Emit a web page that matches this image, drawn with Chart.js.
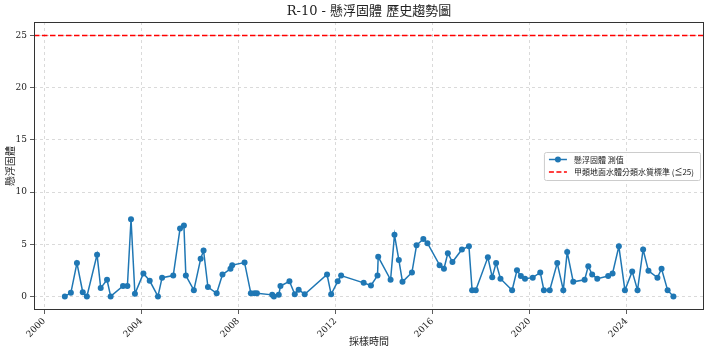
<!DOCTYPE html>
<html><head><meta charset="utf-8">
<script src="https://cdn.jsdelivr.net/npm/chart.js@4.4.1/dist/chart.umd.min.js"></script>
<style>html,body{margin:0;padding:0;background:#fff;overflow:hidden;} canvas{display:block;}</style>
</head><body>
<canvas id="c" width="710" height="352"></canvas>
<script>
const chartTitle = 'R-10 - 懸浮固體 歷史趨勢圖';
const seriesLabel = '懸浮固體 測值';
const thresholdLabel = '甲類地面水體分類水質標準 (≦25)';
const xAxisLabel = '採樣時間';
const yAxisLabel = '懸浮固體';

const sampleYears = [
  2000.85, 2001.10, 2001.35, 2001.59, 2001.76, 2002.18, 2002.33, 2002.59, 2002.74, 2003.25,
  2003.43, 2003.58, 2003.74, 2004.09, 2004.35, 2004.69, 2004.86, 2005.32, 2005.60, 2005.76,
  2005.84, 2006.17, 2006.45, 2006.57, 2006.75, 2007.11, 2007.35, 2007.68, 2007.75, 2008.26,
  2008.52, 2008.67, 2008.77, 2009.40, 2009.47, 2009.67, 2009.74, 2010.11, 2010.33, 2010.49,
  2010.74, 2011.66, 2011.83, 2012.10, 2012.24, 2013.17, 2013.47, 2013.74, 2013.77, 2014.28,
  2014.44, 2014.62, 2014.77, 2015.16, 2015.35, 2015.63, 2015.80, 2016.30, 2016.48, 2016.64,
  2016.83, 2017.22, 2017.51, 2017.64, 2017.79, 2018.29, 2018.47, 2018.63, 2018.81, 2019.29,
  2019.49, 2019.65, 2019.82, 2020.14, 2020.45, 2020.60, 2020.84, 2021.15, 2021.40, 2021.56,
  2021.81, 2022.28, 2022.43, 2022.59, 2022.80, 2023.25, 2023.43, 2023.69, 2023.94, 2024.24,
  2024.46, 2024.69, 2024.91, 2025.28, 2025.45, 2025.70, 2025.94
];
const ssValues = [
  0, 0.35, 3.2, 0.4, 0, 4.0, 0.8, 1.6, 0, 1.0,
  1.0, 7.4, 0.25, 2.2, 1.5, 0, 1.8, 2.0, 6.5, 6.8,
  2.0, 0.6, 3.6, 4.4, 0.9, 0.3, 2.1, 2.65, 3.0, 3.25,
  0.3, 0.3, 0.3, 0.15, 0, 0.15, 1.0, 1.45, 0.2, 0.65,
  0.2, 2.1, 0.2, 1.45, 2.0, 1.3, 1.05, 2.0, 3.8, 1.6,
  5.9, 3.5, 1.4, 2.3, 4.9, 5.5, 5.1, 3.0, 2.65, 4.15,
  3.3, 4.5, 4.8, 0.6, 0.6, 3.75, 1.85, 3.2, 1.7, 0.6,
  2.5, 1.95, 1.7, 1.8, 2.3, 0.6, 0.6, 3.2, 0.6, 4.25,
  1.4, 1.6, 2.9, 2.1, 1.7, 1.95, 2.2, 4.8, 0.6, 2.4,
  0.6, 4.5, 2.45, 1.8, 2.65, 0.6, 0
];
const thresholdValue = 25;
const xTickYears = [2000, 2004, 2008, 2012, 2016, 2020, 2024];
const yTickValues = [0, 5, 10, 15, 20, 25];
const xRange = [1999.58, 2027.2];
const yRange = [-1.3, 26.3];

const serifFont = "'DejaVu Serif', 'Noto Sans CJK TC', serif";
const cjkFont = "'Noto Sans CJK TC', 'DejaVu Serif', sans-serif";
const blue = '#1f77b4';

const seriesData = sampleYears.map((x, i) => ({ x: x, y: ssValues[i] }));
const thresholdData = [{ x: xRange[0], y: thresholdValue }, { x: xRange[1], y: thresholdValue }];

const framePlugin = {
  id: 'frame',
  afterDraw(chart) {
    const { ctx, chartArea: a } = chart;
    ctx.save();
    ctx.strokeStyle = '#333';
    ctx.lineWidth = 1;
    ctx.strokeRect(Math.round(a.left) + 0.5, Math.round(a.top) + 0.5, Math.round(a.right - a.left) - 1, Math.round(a.bottom - a.top) - 1);
    // title
    ctx.fillStyle = '#222';
    ctx.font = "13px " + serifFont;
    ctx.textAlign = 'center';
    ctx.textBaseline = 'middle';
    ctx.fillText(chartTitle, (a.left + a.right) / 2, 12);
    // legend
    ctx.font = "8px " + cjkFont;
    const labels = [seriesLabel, thresholdLabel];
    const tw = Math.max(...labels.map(l => ctx.measureText(l).width));
    const right = a.right - 4;
    const w = tw + 36;
    const left = right - w;
    const top = 152, h = 28;
    ctx.fillStyle = 'rgba(255,255,255,0.85)';
    ctx.strokeStyle = '#ccc';
    ctx.lineWidth = 1;
    ctx.beginPath();
    if (ctx.roundRect) ctx.roundRect(left + 0.5, top + 0.5, w, h, 2); else ctx.rect(left + 0.5, top + 0.5, w, h);
    ctx.fill(); ctx.stroke();
    const rows = [top + 7.5, top + 20];
    ctx.strokeStyle = blue; ctx.lineWidth = 1.5; ctx.setLineDash([]);
    ctx.beginPath(); ctx.moveTo(left + 5, rows[0]); ctx.lineTo(left + 23, rows[0]); ctx.stroke();
    ctx.fillStyle = blue;
    ctx.beginPath(); ctx.arc(left + 14, rows[0], 3, 0, Math.PI * 2); ctx.fill();
    ctx.strokeStyle = 'red'; ctx.setLineDash([5, 2.5]);
    ctx.beginPath(); ctx.moveTo(left + 5, rows[1]); ctx.lineTo(left + 23, rows[1]); ctx.stroke();
    ctx.setLineDash([]);
    ctx.fillStyle = '#222';
    ctx.textAlign = 'left';
    ctx.fillText(labels[0], left + 30, rows[0]);
    ctx.fillText(labels[1], left + 30, rows[1]);
    ctx.restore();
  }
};

new Chart(document.getElementById('c'), {
  type: 'line',
  data: {
    datasets: [
      {
        label: seriesLabel,
        data: seriesData,
        borderColor: blue,
        backgroundColor: blue,
        borderWidth: 1.5,
        pointRadius: 3,
        pointHoverRadius: 3,
        pointBorderWidth: 0,
        tension: 0,
        order: 1
      },
      {
        label: thresholdLabel,
        data: thresholdData,
        borderColor: 'red',
        borderWidth: 1.5,
        borderDash: [5.5, 2.5],
        pointRadius: 0,
        tension: 0,
        order: 2
      }
    ]
  },
  options: {
    responsive: false,
    animation: false,
    layout: { padding: { top: 22, right: 6, left: 0, bottom: 0 } },
    plugins: { legend: { display: false }, title: { display: false }, tooltip: { enabled: false } },
    scales: {
      x: {
        type: 'linear',
        min: xRange[0], max: xRange[1],
        afterBuildTicks: s => { s.ticks = xTickYears.map(v => ({ value: v })); },
        afterFit: s => { s.height = 42; },
        grid: { color: 'rgba(190,190,190,0.7)', tickBorderDash: [], tickColor: '#333', tickLength: 4, drawTicks: true, lineWidth: 0.8 },
        border: { display: false, dash: [3, 3] },
        ticks: {
          font: { family: serifFont, size: 9 }, color: '#222',
          minRotation: 45, maxRotation: 45, padding: 2,
          callback: v => String(v)
        },
        title: { display: true, text: xAxisLabel, font: { family: cjkFont, size: 10 }, color: '#222', padding: { top: 0, bottom: 5 } }
      },
      y: {
        type: 'linear',
        min: yRange[0], max: yRange[1],
        afterBuildTicks: s => { s.ticks = yTickValues.map(v => ({ value: v })); },
        afterFit: s => { s.width = 34; },
        grid: { color: 'rgba(190,190,190,0.7)', tickBorderDash: [], tickColor: '#333', tickLength: 4, lineWidth: 0.8 },
        border: { display: false, dash: [3, 3] },
        ticks: { font: { family: serifFont, size: 9 }, color: '#222', padding: 3, callback: v => String(v) },
        title: { display: true, text: yAxisLabel, font: { family: cjkFont, size: 10 }, color: '#222', padding: { top: 4, bottom: 0 } }
      }
    }
  },
  plugins: [framePlugin]
});
</script>
</body></html>
